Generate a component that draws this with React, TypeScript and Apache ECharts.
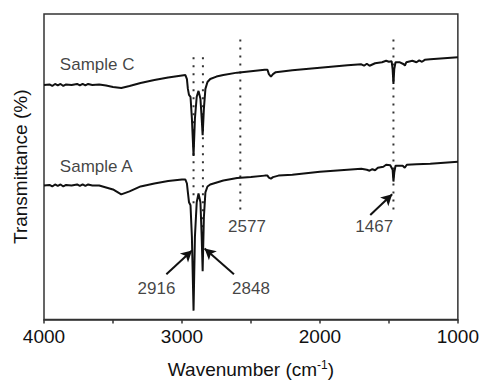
import React, { useEffect, useRef } from "react";
import * as echarts from "echarts";

// Wavenumber (cm-1) and transmittance (arbitrary units)
const sampleC: [number, number][] = [
  [4000, 238], [3960, 238.5], [3940, 237], [3920, 239], [3900, 237.5], [3880, 239], [3860, 237],
  [3840, 238.5], [3800, 238], [3760, 239], [3740, 237.5], [3720, 239], [3700, 237.5], [3680, 239],
  [3650, 238], [3600, 238.5], [3550, 237.5], [3500, 236], [3440, 235], [3380, 237], [3300, 240],
  [3200, 243], [3100, 245.5], [3000, 247.5], [2975, 248], [2964, 244], [2957, 234], [2949, 228],
  [2938, 226], [2928, 204], [2916, 166], [2906, 204], [2893, 226], [2880, 232], [2866, 224],
  [2857, 204], [2850, 187], [2841, 214], [2830, 234], [2815, 241], [2795, 244], [2750, 246.5],
  [2700, 248], [2600, 250.5], [2500, 252], [2400, 253.5], [2380, 253.5], [2370, 249], [2355, 246.5],
  [2340, 249], [2320, 251], [2200, 253], [2000, 255.5], [1800, 258], [1700, 259], [1680, 257.5],
  [1660, 259.5], [1640, 257.5], [1600, 260], [1550, 261], [1520, 262.5], [1500, 261.5], [1480, 262],
  [1473, 254], [1467, 239], [1461, 254], [1452, 261], [1420, 261], [1392, 259], [1384, 257.5],
  [1374, 261], [1330, 262.5], [1300, 261], [1280, 263], [1260, 261.5], [1240, 263.5], [1200, 264],
  [1100, 265], [1000, 266],
];

const sampleA: [number, number][] = [
  [4000, 136], [3960, 136.5], [3940, 135], [3920, 137], [3900, 135.5], [3880, 137], [3860, 135],
  [3840, 136.5], [3800, 136], [3760, 137], [3740, 135.5], [3720, 137], [3700, 135.5], [3680, 137],
  [3650, 136], [3600, 136], [3500, 132], [3440, 127], [3380, 130], [3300, 135], [3200, 138],
  [3100, 140.5], [3000, 142], [2975, 142], [2964, 138], [2957, 129], [2949, 119], [2938, 116],
  [2928, 84], [2916, 9], [2906, 84], [2893, 119], [2880, 128], [2866, 119], [2857, 84], [2850, 49],
  [2841, 104], [2830, 129], [2815, 135], [2795, 137], [2700, 141], [2600, 143.5], [2500, 144.5],
  [2400, 146], [2380, 146], [2370, 144], [2355, 143], [2340, 144.5], [2300, 146], [2200, 147],
  [2000, 150], [1800, 152], [1700, 153], [1660, 152], [1640, 151], [1620, 152.5], [1600, 151.5],
  [1580, 154], [1540, 155], [1520, 157], [1490, 156.5], [1473, 152], [1467, 140], [1461, 149],
  [1452, 156], [1400, 156], [1385, 154], [1370, 157], [1300, 157.5], [1200, 158], [1100, 159],
  [1000, 160],
];

const peakLines: { wn: number; top: number; bottom: number }[] = [
  { wn: 2916, top: 266, bottom: 112 },
  { wn: 2848, top: 266, bottom: 70 },
  { wn: 2577, top: 284, bottom: 106 },
  { wn: 1467, top: 284, bottom: 106 },
];

const arrows: { from: [number, number]; to: [number, number] }[] = [
  { from: [3113, 46], to: [2927, 70] },
  { from: [2623, 46], to: [2836, 72] },
  { from: [1635, 106], to: [1476, 127] },
];

const peakLabels: { text: string; at: [number, number] }[] = [
  { text: "2916", at: [3185, 31] },
  { text: "2848", at: [2500, 31] },
  { text: "2577", at: [2529, 94] },
  { text: "1467", at: [1606, 94] },
];

const sampleLabels: { text: string; at: [number, number] }[] = [
  { text: "Sample C", at: [3885, 259] },
  { text: "Sample A", at: [3885, 155] },
];

const xTicks = { min: 1000, max: 4000, step: 500 };

const FONT = "'Liberation Sans', Arial, Helvetica, sans-serif";
const INK = "#111";

export default function App() {
  const ref = useRef<HTMLDivElement>(null);
  useEffect(() => {
    if (!ref.current) return;
    const chart = echarts.init(ref.current, undefined, { renderer: "svg" });
    const series: any[] = [];
    peakLines.forEach((p) => {
      series.push({
        type: "line",
        data: [[p.wn, p.top], [p.wn, p.bottom]],
        symbol: "none",
        silent: true,
        lineStyle: { color: "#333", width: 2, type: [1.8, 6.2] },
        z: 1,
      });
    });
    series.push({
      type: "line",
      name: "Sample C",
      data: sampleC,
      symbol: "none",
      lineStyle: { color: INK, width: 2 },
      z: 3,
    });
    series.push({
      type: "line",
      name: "Sample A",
      data: sampleA,
      symbol: "none",
      lineStyle: { color: INK, width: 2 },
      z: 3,
    });
    series.push({
      type: "line",
      data: [],
      symbol: "none",
      silent: true,
      markLine: {
        silent: true,
        animation: false,
        symbol: ["none", "arrow"],
        symbolSize: [9, 11],
        label: { show: false },
        lineStyle: { color: INK, width: 2, type: "solid" },
        data: arrows.map((a) => [
          { coord: a.from },
          { coord: a.to },
        ]),
      },
    });
    series.push({
      type: "scatter",
      symbolSize: 0,
      silent: true,
      data: peakLabels.map((l) => ({ value: l.at, name: l.text })),
      label: {
        show: true,
        position: "inside",
        formatter: (p: any) => p.name,
        fontFamily: FONT,
        fontSize: 17,
        color: INK,
      },
    });
    series.push({
      type: "scatter",
      symbolSize: 0,
      silent: true,
      data: sampleLabels.map((l) => ({ value: l.at, name: l.text })),
      label: {
        show: true,
        position: "right",
        distance: 0,
        formatter: (p: any) => p.name,
        fontFamily: FONT,
        fontSize: 17,
        color: INK,
      },
    });

    chart.setOption({
      animation: false,
      grid: {
        left: 44,
        right: 22,
        top: 14,
        bottom: 60,
        show: true,
        borderColor: "#333",
        borderWidth: 1.5,
        backgroundColor: "transparent",
      },
      xAxis: {
        type: "value",
        min: xTicks.min,
        max: xTicks.max,
        interval: xTicks.step,
        inverse: true,
        axisLine: { show: true, lineStyle: { color: "#333", width: 1.5 } },
        axisTick: { show: true, inside: false, length: 4, lineStyle: { color: "#333", width: 1.5 } },
        splitLine: { show: false },
        axisLabel: {
          margin: 7,
          fontFamily: FONT,
          fontSize: 19,
          color: INK,
          formatter: (v: number) => (v % 1000 === 0 ? String(v) : ""),
        },
        name: "{a|Wavenumber (cm}{s|-1}{a|)}",
        nameLocation: "middle",
        nameGap: 39,
        nameTextStyle: {
          fontFamily: FONT,
          color: INK,
          rich: {
            a: { fontFamily: FONT, fontSize: 19, lineHeight: 22, color: INK },
            s: { fontFamily: FONT, fontSize: 12, lineHeight: 12, verticalAlign: "top", color: INK },
          },
        },
      },
      yAxis: {
        type: "value",
        min: 0,
        max: 310,
        axisLine: { show: false },
        axisTick: { show: false },
        axisLabel: { show: false },
        splitLine: { show: false },
        name: "Transmittance (%)",
        nameLocation: "middle",
        nameGap: 14,
        nameTextStyle: { fontFamily: FONT, fontSize: 19, color: INK },
      },
      series,
    });
    return () => chart.dispose();
  }, []);
  return <div ref={ref} style={{ width: 482, height: 384, position: "absolute", left: 0, top: 0 }} />;
}
